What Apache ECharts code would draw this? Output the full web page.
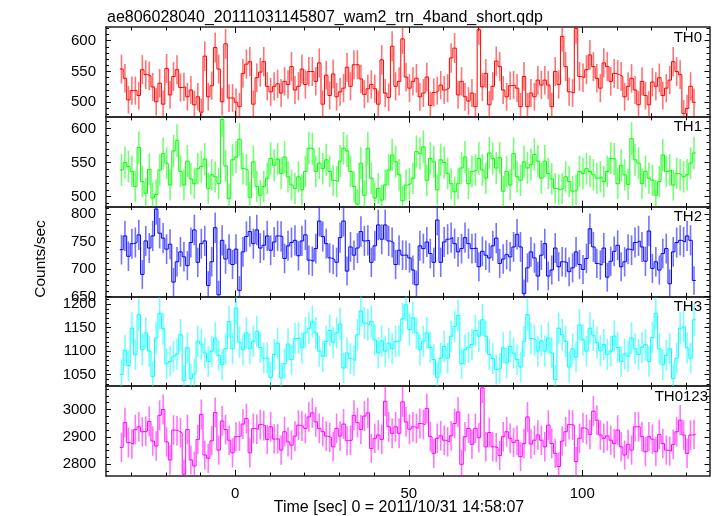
<!DOCTYPE html>
<html><head><meta charset="utf-8">
<script src="https://cdn.jsdelivr.net/npm/echarts@6/dist/echarts.min.js"></script>
<style>html,body{margin:0;padding:0;background:#fff}#c{width:717px;height:516px}</style>
</head><body><div id="c"></div>
<script>
const chartTitle = "ae806028040_20111031145807_wam2_trn_4band_short.qdp";
const xTitle = "Time [sec] 0 = 2011/10/31 14:58:07";
const yTitle = "Counts/sec";
const bandNames = ["TH0", "TH1", "TH2", "TH3", "TH0123"];
const binStart = -33.3;
const binWidth = 1.0;
const xRange = [-37.26, 136.66];
const xMajorTicks = [0, 50, 100];
const xMinorTicks = [-30, -20, -10, 10, 20, 30, 40, 60, 70, 80, 90, 110, 120, 130];

const th0 = [
554,539,504,519,519,511,553,545,543,525,
501,531,497,555,512,542,553,524,525,509,
520,496,509,484,575,509,527,589,554,501,
595,507,507,500,493,547,562,566,497,540,
549,566,526,517,526,530,515,534,529,558,
520,526,554,529,550,550,534,564,497,544,
511,546,509,517,523,557,526,561,561,538,
513,522,529,522,497,569,515,508,591,526,
534,603,
541,523,534,539,509,515,541,495,516,519,
528,520,523,572,588,512,534,509,502,515,
493,618,525,547,496,526,567,558,520,509,
527,528,523,493,542,493,515,509,536,528,
536,528,493,550,529,607,558,517,515,620,
542,540,553,577,558,539,523,564,558,534,
547,545,542,509,526,539,520,496,534,511,
496,533,526,540,511,523,536,566,550,545,
482,490,526,500];

const th1 = [
539,550,544,537,515,572,522,505,540,498,
503,539,563,549,517,567,582,537,517,552,
526,519,541,544,555,512,532,529,519,613,
545,497,554,558,584,541,539,499,551,515,
502,515,527,556,546,555,534,558,529,517,
512,529,510,537,571,570,537,549,541,554,
537,524,522,552,571,567,537,515,489,549,
502,571,527,498,512,495,517,539,561,551,
532,494,
517,519,527,566,563,573,524,556,551,510,
554,550,534,519,507,519,542,558,519,537,
539,556,539,527,564,556,542,557,508,537,
517,563,529,524,551,542,547,562,552,527,
552,534,526,512,510,512,529,522,508,510,
537,534,541,537,532,527,529,522,537,556,
555,519,546,532,518,585,554,549,519,537,
527,524,502,522,561,537,539,517,534,532,
529,532,549,564];

const th2 = [
735,760,723,746,748,762,690,751,738,760,
809,765,756,736,745,676,713,731,722,706,
748,771,712,746,751,670,713,775,653,752,
718,736,708,736,661,731,759,768,746,771,
738,743,760,734,749,760,759,719,742,748,
752,724,751,762,716,714,737,787,759,746,
720,717,712,757,787,696,740,725,738,768,
751,752,712,742,780,754,780,751,748,708,
734,725,
725,720,698,671,742,737,749,728,712,789,
712,749,754,757,746,731,737,757,746,737,
738,704,732,725,720,742,756,710,718,726,
722,740,763,740,655,702,731,720,687,725,
746,687,698,738,704,713,712,695,702,731,
708,699,719,773,740,710,707,738,685,714,
732,743,704,713,736,734,748,751,740,714,
769,701,713,698,728,737,673,731,748,752,
749,760,752,679];

const th3 = [
1050,1102,1069,1149,1093,1178,1103,1139,1100,1046,
1128,1181,1148,1073,1078,1089,1094,1135,1037,1107,
1041,1051,1121,1115,1096,1078,1100,1128,1091,1071,
1105,1163,1105,1192,1119,1103,1139,1105,1121,1142,
1108,1085,1085,1044,1093,1117,1043,1073,1115,1082,
1127,1128,1107,1139,1149,1163,1139,1100,1089,1121,
1144,1119,1139,1158,1064,1096,1084,1080,1135,1186,
1160,1156,1163,1124,1096,1122,1100,1117,1105,1121,
1122,1169,
1199,1146,1171,1139,1103,1121,1139,1108,1082,1044,
1085,1110,1085,1132,1153,1176,1073,1103,1108,1114,
1144,1132,1167,1132,1093,1084,1061,1063,1107,1075,
1110,1096,1082,1066,1121,1178,1127,1124,1100,1122,
1100,1128,1096,1039,1149,1135,1121,1066,1105,1087,
1156,1124,1100,1149,1134,1119,1101,1114,1093,1100,
1132,1108,1078,1094,1089,1128,1105,1093,1108,1114,
1078,1129,1181,1105,1071,1091,1105,1041,1085,1149,
1153,1107,1085,1167];

const th0123 = [
2862,2952,2879,2874,2927,2937,2919,2921,2956,2885,
2867,2979,3000,2882,2816,2925,2922,2915,2764,2927,
2816,2794,2891,2982,2834,2822,2886,2989,2852,2958,
2927,2888,2842,2901,2903,2947,2967,2842,2931,2928,
2945,2941,2891,2937,2892,2893,2852,2919,2882,2870,
2903,2943,2939,2931,2973,2988,2955,2931,2919,2903,
2898,2864,2931,2903,2947,2886,2888,2979,2952,2927,
2976,2988,2858,2895,2907,2891,3030,2937,2913,
2937,2913,3028,2955,2928,2937,2931,2949,2945,3004,
2901,2840,2895,2904,2888,2882,2904,2949,2991,2800,
2901,2931,2873,2931,2897,3079,2864,2916,2864,2861,
2832,2901,2919,2895,2880,2888,2828,2876,2973,2874,
2888,2907,2888,2864,2943,2876,2840,2792,2885,2919,
2945,2943,2810,2895,2933,2927,2909,2994,2961,2907,
2895,2904,2888,2876,2925,2864,2834,2873,2852,2937,
2937,2901,2846,2901,2892,2846,2909,2876,2852,2848,
2873,2919,2961,2907,2840,2907,2909];

const yRanges = [[476.5, 622.3], [485.4, 617], [650, 813.4], [1025, 1217], [2757.5, 3085]];
const yMajorTicks = [[500, 550, 600], [500, 550, 600], [650, 700, 750, 800], [1050, 1100, 1150, 1200], [2800, 2900, 3000]];
const yMinorTicks = [
  [480, 490, 510, 520, 530, 540, 560, 570, 580, 590, 610, 620],
  [490, 510, 520, 530, 540, 560, 570, 580, 590, 610],
  [660, 670, 680, 690, 710, 720, 730, 740, 760, 770, 780, 790, 810],
  [1030, 1040, 1060, 1070, 1080, 1090, 1110, 1120, 1130, 1140, 1160, 1170, 1180, 1190, 1210],
  [2775, 2825, 2850, 2875, 2925, 2950, 2975, 3025, 3050, 3075]
];
const bandData = [th0, th1, th2, th3, th0123];
const bandColors = ["#ff0000", "#00ff00", "#0000ff", "#00ffff", "#ff00ff"];

const FONT = '"Liberation Sans", Arial, Helvetica, sans-serif';
const gridLeft = 106, gridW = 603.5, panelTop = 27, panelH = 89.8;
const frame = { show: true, onZero: false, lineStyle: { color: '#222', width: 1.5 } };
const grids = [], xAxes = [], yAxes = [], series = [], graphics = [];
const plain = v => String(v);

function tick(len, vals) {
  return { show: true, inside: true, length: len, customValues: vals, lineStyle: { color: '#000', width: 1 } };
}

for (let k = 0; k < 5; k++) {
  grids.push({ left: gridLeft, width: gridW, top: panelTop + k * panelH, height: panelH });
  const xBase = { type: 'value', gridIndex: k, min: xRange[0], max: xRange[1], splitLine: { show: false }, axisPointer: { show: false } };
  const xi = xAxes.length;
  xAxes.push(Object.assign({}, xBase, { position: 'bottom', axisLine: frame, axisTick: tick(6, xMajorTicks),
    axisLabel: { show: k === 4, customValues: xMajorTicks, formatter: plain, margin: 10, fontSize: 15, color: '#000', fontFamily: FONT } }));
  xAxes.push(Object.assign({}, xBase, { position: 'bottom', axisLine: { show: false, onZero: false }, axisTick: tick(3.5, xMinorTicks), axisLabel: { show: false } }));
  xAxes.push(Object.assign({}, xBase, { position: 'top', axisLine: frame, axisTick: tick(6, xMajorTicks), axisLabel: { show: false } }));
  xAxes.push(Object.assign({}, xBase, { position: 'top', axisLine: { show: false, onZero: false }, axisTick: tick(3.5, xMinorTicks), axisLabel: { show: false } }));

  const yBase = { type: 'value', gridIndex: k, min: yRanges[k][0], max: yRanges[k][1], splitLine: { show: false }, scale: true };
  const yi = yAxes.length;
  yAxes.push(Object.assign({}, yBase, { position: 'left', axisLine: frame, axisTick: tick(5, yMajorTicks[k]),
    axisLabel: { show: true, customValues: yMajorTicks[k], formatter: plain, margin: 10, fontSize: 15, color: '#000', fontFamily: FONT } }));
  yAxes.push(Object.assign({}, yBase, { position: 'left', axisLine: { show: false, onZero: false }, axisTick: tick(3, yMinorTicks[k]), axisLabel: { show: false } }));
  yAxes.push(Object.assign({}, yBase, { position: 'right', axisLine: frame, axisTick: tick(5, yMajorTicks[k]), axisLabel: { show: false } }));
  yAxes.push(Object.assign({}, yBase, { position: 'right', axisLine: { show: false, onZero: false }, axisTick: tick(3, yMinorTicks[k]), axisLabel: { show: false } }));

  const vals = bandData[k];
  const color = bandColors[k];
  const stepPts = vals.map((v, i) => [binStart + i * binWidth, v]);
  stepPts.push([binStart + vals.length * binWidth, vals[vals.length - 1]]);
  const errPts = vals.map((v, i) => [binStart + (i + 0.5) * binWidth, v, Math.sqrt(v * binWidth) / binWidth]);

  series.push({
    type: 'custom', xAxisIndex: xi, yAxisIndex: yi, data: errPts, z: 1, silent: true, animation: false,
    encode: { x: 0, y: 1 },
    renderItem: function (params, api) {
      const x = api.value(0), v = api.value(1), e = api.value(2);
      const a = api.coord([x, v - e]), b = api.coord([x, v + e]);
      const cs = params.coordSys;
      const clamp = y => Math.min(Math.max(y, cs.y), cs.y + cs.height);
      return { type: 'line', shape: { x1: a[0], y1: clamp(a[1]), x2: b[0], y2: clamp(b[1]) },
        style: { stroke: color, lineWidth: 1.6, opacity: 0.55 } };
    }
  });
  series.push({
    type: 'line', xAxisIndex: xi, yAxisIndex: yi, data: stepPts, step: 'end', showSymbol: false, symbol: 'none',
    lineStyle: { color: color, width: 1 }, z: 2, silent: true, animation: false, clip: true
  });

  graphics.push({ type: 'text', x: k === 4 ? 708 : 702, y: panelTop + k * panelH + 10.5,
    style: { text: bandNames[k], align: 'right', verticalAlign: 'middle', font: '15px ' + FONT, fill: '#000' } });
}

graphics.push({ type: 'text', x: 107, y: 18, style: { text: chartTitle, align: 'left', verticalAlign: 'middle', font: '16px ' + FONT, fill: '#000' } });
graphics.push({ type: 'text', x: 399, y: 508, style: { text: xTitle, align: 'center', verticalAlign: 'middle', font: '16px ' + FONT, fill: '#000' } });
graphics.push({ type: 'text', x: 41, y: 259, rotation: Math.PI / 2, style: { text: yTitle, align: 'center', verticalAlign: 'middle', font: '15.5px ' + FONT, fill: '#000' } });

const chart = echarts.init(document.getElementById('c'), null, { renderer: 'canvas' });
chart.setOption({
  backgroundColor: '#fff',
  animation: false,
  grid: grids,
  xAxis: xAxes,
  yAxis: yAxes,
  series: series,
  graphic: graphics
});
</script></body></html>
